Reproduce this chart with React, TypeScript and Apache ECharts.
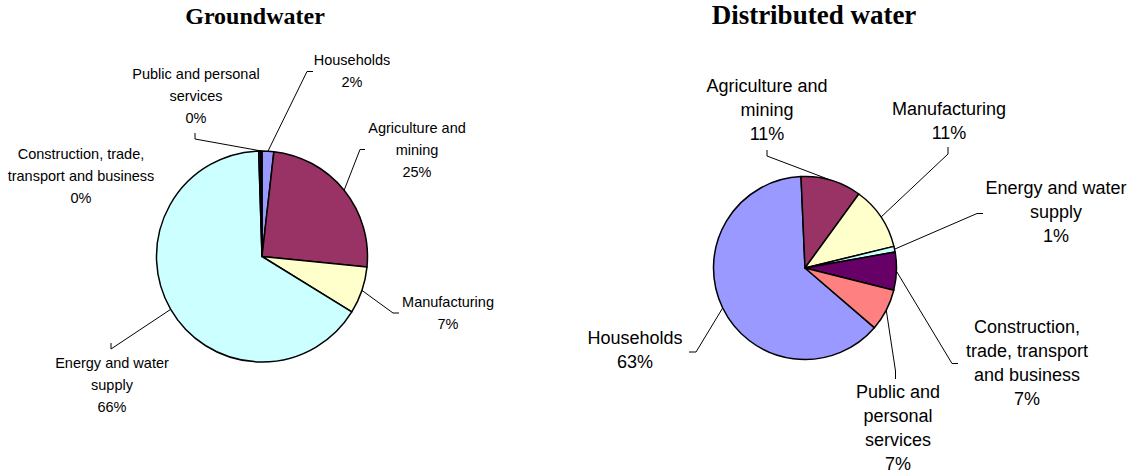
import React, { useEffect, useRef } from 'react';
import * as echarts from 'echarts';

// ---- data ----
const categories = [
  'Households',
  'Agriculture and mining',
  'Manufacturing',
  'Energy and water supply',
  'Construction, trade, transport and business',
  'Public and personal services',
];
const groundwaterValues = [1.8, 24.8, 7.2, 65.7, 0.3, 0.2];
const distributedValues = [63.0, 10.7, 11.2, 1.0, 6.7, 7.4];

const groundwaterLabels = [
  'Households',
  'Agriculture and\nmining',
  'Manufacturing',
  'Energy and water\nsupply',
  'Construction, trade,\ntransport and business',
  'Public and personal\nservices',
];
const distributedLabels = [
  'Households',
  'Agriculture and\nmining',
  'Manufacturing',
  'Energy and water\nsupply',
  'Construction,\ntrade, transport\nand business',
  'Public and\npersonal\nservices',
];
const titles = ['Groundwater', 'Distributed water'];

// ---- styles / layout ----
const colors = ['#9999FF', '#993366', '#FFFFCC', '#CCFFFF', '#660066', '#FF8080'];

type LabelPos = { x: number; y: number; bend?: number[]; end?: number[] };

const groundwaterLayout: LabelPos[] = [
  { x: 352, y: 71, bend: [307, 71.5], end: [313, 71.5] },
  { x: 417, y: 149.5, bend: [360, 149.5], end: [365, 149.5] },
  { x: 448, y: 312.5, bend: [393, 313], end: [399, 313] },
  { x: 112, y: 385, bend: [111, 349], end: [111, 343] },
  { x: 81, y: 175.5 },
  { x: 196, y: 95.5, bend: [195, 139], end: [195, 133] },
];
const distributedLayout: LabelPos[] = [
  { x: 635, y: 350, bend: [696, 352], end: [689, 352] },
  { x: 767, y: 110, bend: [767, 156], end: [767, 150] },
  { x: 949, y: 120.5, bend: [948, 154], end: [948, 147] },
  { x: 1056, y: 212, bend: [977, 213.5], end: [983, 213.5] },
  { x: 1027, y: 362.5, bend: [952, 363.5], end: [958, 363.5] },
  { x: 898, y: 427.5, bend: [895.5, 371], end: [895.5, 379] },
];

function makeSeries(
  values: number[],
  labels: string[],
  center: number[],
  radius: number,
  startAngle: number,
  fontSize: number,
  lineHeight: number,
  layout: LabelPos[]
) {
  return {
    type: 'pie',
    center,
    radius,
    startAngle,
    clockwise: true,
    avoidLabelOverlap: false,
    emphasis: { disabled: true },
    data: values.map((v, i) => ({
      name: categories[i],
      value: v,
      itemStyle: { color: colors[i] },
      labelLine: { show: !!layout[i].bend },
    })),
    itemStyle: { borderColor: '#000000', borderWidth: 1.5 },
    label: {
      show: true,
      position: 'outside',
      formatter: (p: any) => `${labels[p.dataIndex]}\n${Math.round(p.percent)}%`,
      fontFamily: '"Liberation Sans", Arial, sans-serif',
      fontSize,
      lineHeight,
      color: '#000000',
      align: 'center',
    },
    labelLine: {
      show: true,
      length: 10,
      length2: 10,
      lineStyle: { color: '#000000', width: 1 },
    },
    labelLayout: (params: any) => {
      const L = layout[params.dataIndex];
      const out: any = { x: L.x, y: L.y, align: 'center', verticalAlign: 'middle' };
      const pts = params.labelLinePoints;
      if (L.bend && pts && pts[0]) {
        out.labelLinePoints = [[pts[0][0], pts[0][1]], L.bend, L.end];
      }
      return out;
    },
  };
}

export default function App() {
  const ref = useRef<HTMLDivElement>(null);
  useEffect(() => {
    document.body.style.margin = '0';
    const chart = echarts.init(ref.current as HTMLDivElement, null, { renderer: 'svg' });
    chart.setOption({
      animation: false,
      backgroundColor: '#ffffff',
      graphic: [
        {
          type: 'text',
          x: 255,
          y: 16,
          style: {
            text: titles[0],
            textAlign: 'center',
            textVerticalAlign: 'middle',
            fontFamily: '"Liberation Serif", "Times New Roman", serif',
            fontWeight: 'bold',
            fontSize: 24,
            fill: '#000000',
          },
        },
        {
          type: 'text',
          x: 814,
          y: 15,
          style: {
            text: titles[1],
            textAlign: 'center',
            textVerticalAlign: 'middle',
            fontFamily: '"Liberation Serif", "Times New Roman", serif',
            fontWeight: 'bold',
            fontSize: 27,
            fill: '#000000',
          },
        },
      ],
      series: [
        makeSeries(groundwaterValues, groundwaterLabels, [262, 256.5], 105.5, 90, 14.5, 22, groundwaterLayout),
        makeSeries(distributedValues, distributedLabels, [805, 268], 91.5, -40.7, 18, 24, distributedLayout),
      ],
    });
    return () => chart.dispose();
  }, []);
  return <div ref={ref} style={{ width: 1134, height: 473 }} />;
}
